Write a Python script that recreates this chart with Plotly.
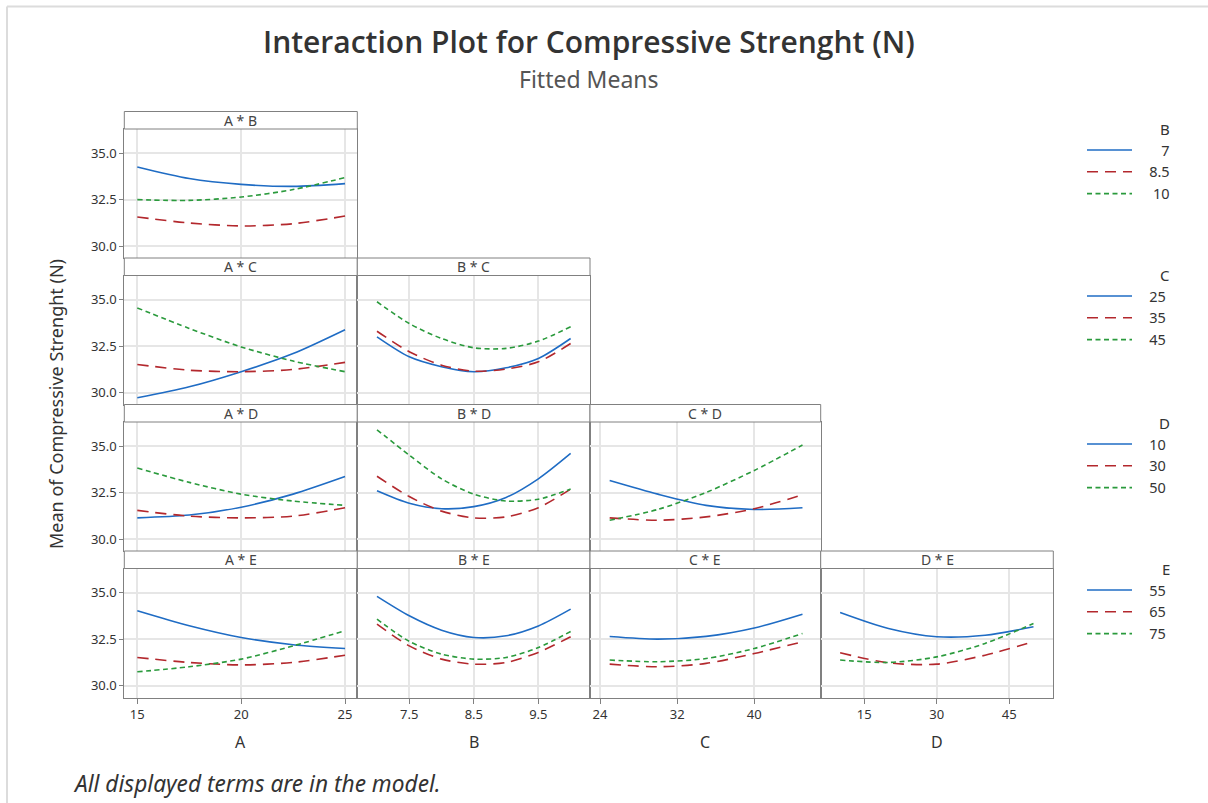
import plotly.graph_objects as go

W, H = 1208, 803

# ---- data (fitted means) ----
A_X = [15, 17.5, 20, 22.5, 25]
B_X = [7, 7.5, 8, 8.5, 9, 9.5, 10]
C_X = [25, 30, 35, 40, 45]
D_X = [10, 20, 30, 40, 50]

B_LEVELS = ["7", "8.5", "10"]
C_LEVELS = ["25", "35", "45"]
D_LEVELS = ["10", "30", "50"]
E_LEVELS = ["55", "65", "75"]

AB = [[34.25, 33.63, 33.32, 33.21, 33.36],
      [31.57, 31.25, 31.09, 31.21, 31.62],
      [32.50, 32.46, 32.64, 33.04, 33.68]]
AC = [[29.73, 30.32, 31.13, 32.10, 33.38],
      [31.52, 31.21, 31.13, 31.25, 31.63],
      [34.55, 33.45, 32.46, 31.70, 31.13]]
BC = [[33.00, 31.93, 31.40, 31.13, 31.34, 31.84, 32.91],
      [33.30, 32.20, 31.48, 31.16, 31.27, 31.66, 32.64],
      [34.88, 33.71, 32.91, 32.41, 32.38, 32.77, 33.54]]
AD = [[31.15, 31.30, 31.72, 32.42, 33.36],
      [31.55, 31.24, 31.15, 31.24, 31.69],
      [33.82, 33.05, 32.42, 32.05, 31.82]]
BD = [[32.60, 31.93, 31.64, 31.75, 32.24, 33.24, 34.60],
      [33.38, 32.29, 31.51, 31.15, 31.20, 31.69, 32.69],
      [35.87, 34.51, 33.24, 32.42, 32.05, 32.15, 32.69]]
CD = [[33.15, 32.42, 31.82, 31.60, 31.69],
      [31.15, 31.02, 31.20, 31.64, 32.38],
      [31.02, 31.60, 32.51, 33.69, 35.05]]
AE = [[34.02, 33.22, 32.59, 32.20, 32.00],
      [31.52, 31.25, 31.12, 31.25, 31.64],
      [30.75, 31.02, 31.43, 32.14, 32.95]]
BE = [[34.79, 33.75, 32.98, 32.59, 32.68, 33.21, 34.11],
      [33.30, 32.14, 31.43, 31.16, 31.25, 31.79, 32.63],
      [33.57, 32.38, 31.70, 31.43, 31.52, 32.05, 32.91]]
CE = [[32.64, 32.50, 32.65, 33.10, 33.84],
      [31.16, 31.02, 31.20, 31.73, 32.36],
      [31.38, 31.29, 31.46, 32.00, 32.80]]
DE = [[33.93, 33.07, 32.63, 32.71, 33.16],
      [31.77, 31.23, 31.16, 31.64, 32.36],
      [31.38, 31.25, 31.55, 32.27, 33.34]]

X_TICKS = {0: [15, 20, 25], 1: [7.5, 8.5, 9.5], 2: [24, 32, 40], 3: [15, 30, 45]}
X_TICKTEXT = {0: ["15", "20", "25"], 1: ["7.5", "8.5", "9.5"],
              2: ["24", "32", "40"], 3: ["15", "30", "45"]}
X_NAMES = ["A", "B", "C", "D"]
Y_TICKS = [30.0, 32.5, 35.0]

# ---- styling / geometry ----
COLORS = ["#1f6cc4", "#b3282d", "#2a9a3c"]
DASHES = ["solid", "11px,7px", "5px,3.5px"]
FONT = "Noto Sans, Open Sans, sans-serif"

COL_EDGES = [124.3, 357.3, 590.0, 820.7, 1053.3]
X_RANGE = {0: [14.374, 25.59], 1: [6.695, 10.30], 2: [22.96, 46.89], 3: [5.98, 54.1]}
Y_RANGE = [29.373, 36.286]
ROW0_STRIP = 111.5
PITCH = 146.5
STRIP_H = 17.5
PLOT_H = 129.0

FS, PS = "\u2007", "\u2008"   # figure space / punctuation space (legend label alignment)


def legend_label(lev, widest):
    pad_digits = sum(ch.isdigit() for ch in widest) - sum(ch.isdigit() for ch in lev)
    pad_points = widest.count(".") - lev.count(".")
    return FS + PS + FS * pad_digits + PS * pad_points + lev


def px(x):
    return x / W


def py(y):
    return 1 - y / H


panels = [
    (0, 0, "A * B", A_X, AB, "B"),
    (1, 0, "A * C", A_X, AC, "C"),
    (1, 1, "B * C", B_X, BC, "C"),
    (2, 0, "A * D", A_X, AD, "D"),
    (2, 1, "B * D", B_X, BD, "D"),
    (2, 2, "C * D", C_X, CD, "D"),
    (3, 0, "A * E", A_X, AE, "E"),
    (3, 1, "B * E", B_X, BE, "E"),
    (3, 2, "C * E", C_X, CE, "E"),
    (3, 3, "D * E", D_X, DE, "E"),
]
LEVELS = {"B": B_LEVELS, "C": C_LEVELS, "D": D_LEVELS, "E": E_LEVELS}
LEGEND_KEY = {"B": "legend", "C": "legend2", "D": "legend3", "E": "legend4"}

fig = go.Figure()
layout = dict(
    width=W, height=H,
    margin=dict(l=0, r=0, t=0, b=0),
    paper_bgcolor="white", plot_bgcolor="white",
    font=dict(family=FONT, color="#333333"),
    showlegend=True,
)
shapes = []
annotations = []
shown = set()

for k, (r, c, title, xs, ys, fac) in enumerate(panels, start=1):
    sfx = "" if k == 1 else str(k)
    strip_top = ROW0_STRIP + PITCH * r
    plot_top = strip_top + STRIP_H
    plot_bot = plot_top + PLOT_H
    x0, x1 = COL_EDGES[c], COL_EDGES[c + 1]
    bottom_row = (r == 3)
    layout["xaxis" + sfx] = dict(
        domain=[px(x0), px(x1)], range=X_RANGE[c], anchor="y" + sfx,
        tickvals=X_TICKS[c], ticktext=X_TICKTEXT[c],
        showticklabels=bottom_row, ticks="outside" if bottom_row else "",
        ticklen=5, tickcolor="#808080",
        tickfont=dict(size=13, color="#333333"),
        showgrid=True, gridcolor="#e6e6e6", gridwidth=1.5,
        showline=True, mirror=True, linecolor="#808080", linewidth=1,
        zeroline=False,
    )
    layout["yaxis" + sfx] = dict(
        domain=[py(plot_bot), py(plot_top)], range=Y_RANGE, anchor="x" + sfx,
        tickvals=Y_TICKS, ticktext=["30.0", "32.5", "35.0"],
        showticklabels=(c == 0), ticks="outside" if c == 0 else "",
        ticklen=4, tickcolor="#808080",
        tickfont=dict(size=13, color="#333333"),
        showgrid=True, gridcolor="#e6e6e6", gridwidth=1.5,
        showline=True, mirror=True, linecolor="#808080", linewidth=1,
        zeroline=False,
    )
    # strip
    shapes.append(dict(type="rect", xref="paper", yref="paper",
                       x0=px(x0), x1=px(x1), y0=py(plot_top), y1=py(strip_top),
                       line=dict(color="#808080", width=1), fillcolor="white"))
    annotations.append(dict(text=title, xref="paper", yref="paper",
                            x=px((x0 + x1) / 2), y=py((strip_top + plot_top) / 2),
                            xanchor="center", yanchor="middle", showarrow=False,
                            font=dict(size=14, color="#444444")))
    widest = max(LEVELS[fac], key=len)
    for i, lev in enumerate(LEVELS[fac]):
        grp = fac + lev
        fig.add_trace(go.Scatter(
            x=xs, y=ys[i], mode="lines", name=legend_label(lev, widest),
            line=dict(color=COLORS[i], dash=DASHES[i], width=1.6, shape="spline", smoothing=0.8),
            xaxis="x" + sfx, yaxis="y" + sfx,
            legend=LEGEND_KEY[fac], legendgroup=grp,
            showlegend=grp not in shown,
            hovertemplate=fac + "=" + lev + "<br>%{x}, %{y:.2f}<extra></extra>",
        ))
        shown.add(grp)
    if bottom_row:
        annotations.append(dict(text=X_NAMES[c], xref="paper", yref="paper",
                                x=px((x0 + x1) / 2), y=py(742), xanchor="center",
                                yanchor="middle", showarrow=False,
                                font=dict(size=16, color="#333333")))

# legends
LEG_TOPS = {"B": 129, "C": 275, "D": 423, "E": 569}
for fac, key in LEGEND_KEY.items():
    top = LEG_TOPS[fac]
    layout[key] = dict(
        x=px(1082), y=py(top + 5), xanchor="left", yanchor="top",
        bgcolor="rgba(0,0,0,0)", borderwidth=0,
        font=dict(size=14.5, color="#333333", family=FONT),
        tracegroupgap=0, itemwidth=45,
    )
    annotations.append(dict(text=fac, xref="paper", yref="paper",
                            x=px(1172), y=py(top), xanchor="right", yanchor="middle",
                            showarrow=False, font=dict(size=15, color="#333333")))

# titles and texts
annotations += [
    dict(text="Interaction Plot for Compressive Strenght (N)", xref="paper", yref="paper",
         x=px(589), y=py(42), xanchor="center", yanchor="middle", showarrow=False,
         font=dict(size=30, color="#333333", family="Open Sans, Noto Sans, sans-serif", weight=600)),
    dict(text="Fitted Means", xref="paper", yref="paper",
         x=px(589), y=py(79), xanchor="center", yanchor="middle", showarrow=False,
         font=dict(size=23, color="#555555")),
    dict(text="Mean of Compressive Strenght (N)", xref="paper", yref="paper",
         x=px(56), y=py(404), xanchor="center", yanchor="middle", showarrow=False,
         textangle=-90, font=dict(size=18, color="#333333")),
    dict(text="<i>All displayed terms are in the model.</i>", xref="paper", yref="paper",
         x=px(71), y=py(783), xanchor="left", yanchor="middle", showarrow=False,
         font=dict(size=22.7, color="#333333")),
]

# window frame lines
shapes += [
    dict(type="line", xref="paper", yref="paper", x0=px(7), x1=1, y0=py(6.5), y1=py(6.5),
         line=dict(color="#dcdcdc", width=2)),
    dict(type="line", xref="paper", yref="paper", x0=px(7), x1=px(7), y0=py(6.5), y1=0,
         line=dict(color="#dcdcdc", width=2)),
]

layout["shapes"] = shapes
layout["annotations"] = annotations
fig.update_layout(**layout)
fig.write_html("out.html", config={"displayModeBar": False},
               post_script="document.body.style.margin='0';document.body.style.overflow='hidden';")
